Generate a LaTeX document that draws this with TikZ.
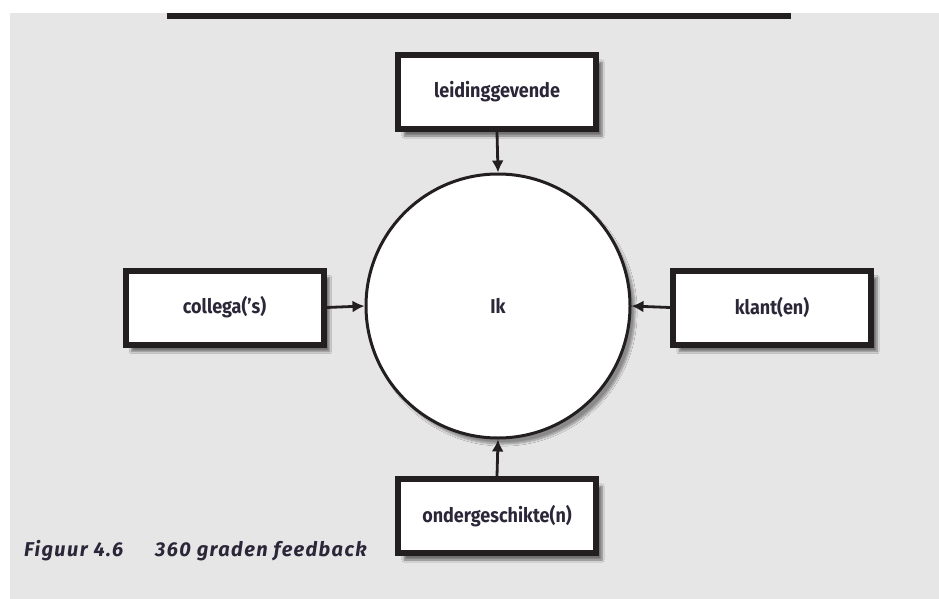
\documentclass[tikz,border=0pt]{standalone}
\usepackage{fontspec}
\setmainfont{Fira Sans}[FakeStretch=0.9]
\newfontfamily\capfont{Fira Sans}[LetterSpace=7]
\usetikzlibrary{shadows.blur,arrows.meta}
\definecolor{bggray}{HTML}{E6E6E6}
\definecolor{ink}{HTML}{231F20}
\definecolor{txt}{HTML}{2B2638}
\tikzset{
  box/.style={draw=ink, line width=6pt, fill=white, minimum width=198pt, minimum height=74pt,
    font=\fontsize{20}{24}\selectfont\bfseries, text=txt, inner sep=0pt,
    blur shadow={shadow xshift=6pt, shadow yshift=-7pt, shadow blur steps=8, shadow opacity=50}},
  hub/.style={circle, draw=ink, line width=3pt, fill=white, minimum size=264pt, inner sep=0pt,
    font=\fontsize{20}{24}\selectfont\bfseries, text=txt,
    blur shadow={shadow xshift=5pt, shadow yshift=-6pt, shadow blur steps=8, shadow opacity=40}},
  conn/.style={draw=ink, line width=2.8pt, -{Latex[length=12pt,width=12pt]}},
  caption/.style={font=\capfont\fontsize{20}{24}\selectfont\bfseries\itshape, text=txt, anchor=base west, inner sep=0pt}
}
\begin{document}
\begin{tikzpicture}[x=1pt,y=-1pt]
\useasboundingbox (0,0) rectangle (939,599);
\fill[white] (0,0) rectangle (939,599);
\fill[bggray] (10,13) rectangle (939,599);
\fill[ink] (167,13) rectangle (791,19);
\node[hub] (ik) at (498,306) {Ik};
\node[box] (top) at (497,92) {leidinggevende};
\node[box] (left) at (224.5,307.5) {collega('s)};
\node[box] (right) at (772,307.5) {klant(en)};
\node[box] (bottom) at (497,516) {ondergeschikte(n)};
\draw[conn] (top.south) -- (ik.north);
\draw[conn] (left.east) -- (ik.west);
\draw[conn] (right.west) -- (ik.east);
\draw[conn] (bottom.north) -- (ik.south);
\node[caption] (fig) at (24,556) {Figuur 4.6};
\node[caption] (cap) at (155,556) {360 graden feedback};
\end{tikzpicture}
\end{document}
